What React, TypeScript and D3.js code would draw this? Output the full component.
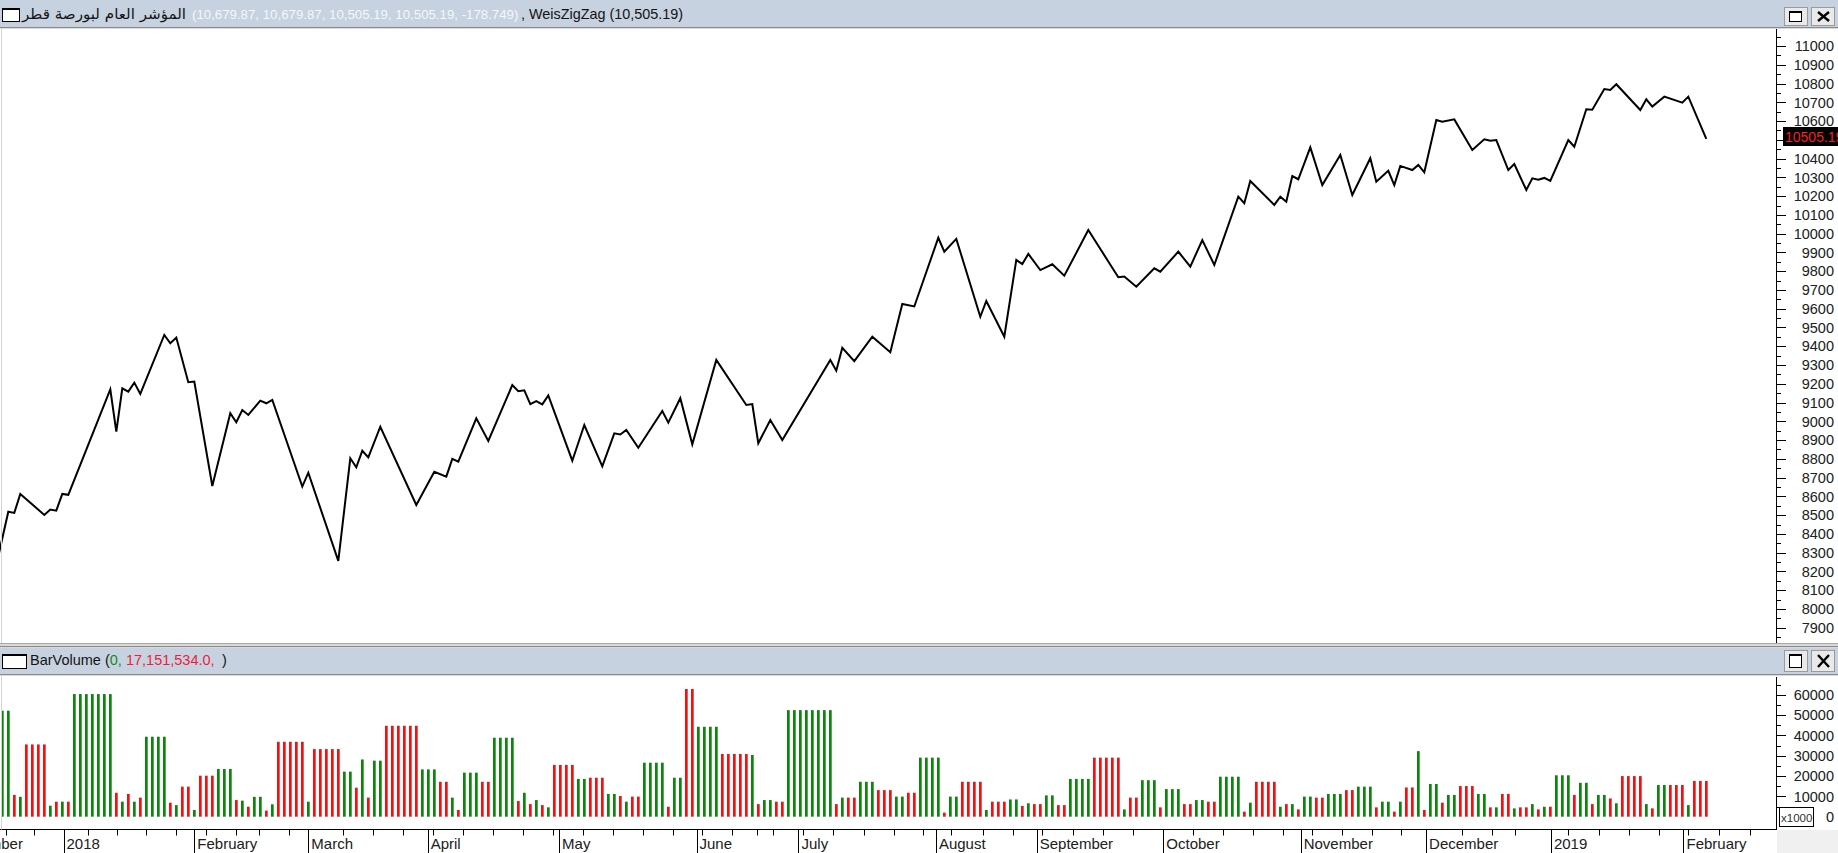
import React from "react";
import * as d3 from "d3";

const W = 1838;
const H = 853;

// ---------- data ----------
const startClose = 8234; // close of the bar just before the first visible bar
// each wave: number of bars, close at end of wave, wave volume shown on each bar
const waveBars = [
  2, 1, 1, 4, 1, 1, 1, 1, 7, 1, 1, 1, 1, 1, 4, 1, 1, 2, 1, 3,
  3, 1, 1, 1, 2, 1, 1, 5, 1, 5, 2, 1, 1, 1, 2, 6, 3, 2, 1, 1,
  3, 2, 4, 1, 1, 1, 1, 1, 1, 4, 2, 3, 2, 1, 1, 2, 4, 1, 2, 2,
  4, 5, 1, 1, 2, 2, 8, 1, 1, 2, 3, 3, 2, 2, 4, 1, 2, 4, 1, 3,
  2, 1, 1, 2, 2, 2, 4, 5, 1, 2, 3, 1, 3, 2, 2, 2, 4, 1, 1, 4,
  1, 1, 1, 1, 2, 2, 3, 2, 3, 1, 2, 1, 1, 2, 1, 1, 2, 1, 2, 3,
  2, 1, 1, 2, 1, 2, 1, 1, 1, 1, 3, 1, 2, 1, 2, 1, 1, 4, 1, 1,
  2, 3, 1, 3,
];
const waveClose = [
  8518, 8512, 8613, 8501, 8530, 8524, 8613, 8608, 9170, 8945,
  9176, 9158, 9206, 9146, 9460, 9416, 9446, 9208, 9212, 8655,
  9043, 8995, 9060, 9034, 9110, 9096, 9114, 8652, 8726, 8256,
  8803, 8755, 8843, 8808, 8971, 8554, 8731, 8705, 8800, 8785,
  9016, 8895, 9193, 9160, 9165, 9092, 9108, 9090, 9138, 8790,
  8980, 8760, 8936, 8930, 8954, 8859, 9055, 8993, 9123, 8877,
  9327, 9087, 9092, 8883, 9007, 8900, 9327, 9270, 9392, 9321,
  9451, 9368, 9625, 9612, 9978, 9904, 9972, 9557, 9641, 9451,
  9860, 9838, 9892, 9806, 9837, 9776, 10019, 9768, 9772, 9717,
  9815, 9797, 9904, 9824, 9966, 9833, 10197, 10162, 10281, 10153,
  10197, 10170, 10307, 10290, 10460, 10259, 10419, 10206, 10402, 10277,
  10335, 10259, 10361, 10339, 10366, 10327, 10606, 10597, 10609, 10446,
  10503, 10495, 10499, 10339, 10371, 10233, 10295, 10288, 10297, 10281,
  10499, 10463, 10663, 10660, 10771, 10766, 10796, 10659, 10716, 10677,
  10730, 10698, 10730, 10505.19,
];
const waveVolume = [
  52200, 10700, 9800, 35600, 5400, 7400, 7400, 7400, 60400, 11800,
  7400, 11200, 7400, 9400, 39400, 6900, 5700, 14800, 3300, 20200,
  23500, 8200, 7900, 4900, 9800, 3000, 6100, 36900, 7400, 33300,
  22200, 14300, 28200, 9400, 27600, 44800, 23300, 17200, 9400, 3300,
  21700, 17200, 38900, 7700, 11800, 6200, 8200, 5700, 4600, 25500,
  18600, 19200, 11200, 10200, 7400, 9900, 26600, 4900, 19200, 62900,
  44300, 30900, 30400, 6200, 8200, 7400, 52500, 6200, 9400, 9400,
  17200, 13100, 9900, 11800, 29100, 2000, 9900, 17200, 3300, 7400,
  8500, 5300, 6600, 6200, 10500, 5700, 18600, 29100, 3600, 9400,
  18000, 4600, 13600, 6200, 8200, 7400, 19700, 2500, 6900, 17200,
  4900, 6200, 6200, 3600, 9900, 9400, 11200, 13100, 14800, 4600,
  7400, 2500, 7400, 14400, 32300, 3300, 16100, 6900, 10700, 15100,
  11200, 4600, 4600, 11200, 4100, 4600, 6200, 3600, 4900, 4900,
  20400, 10700, 16700, 6200, 10700, 9000, 6600, 20000, 6200, 4100,
  15600, 15600, 5700, 17600,
];

const monthLabels = [
  "December", "2018", "February", "March", "April", "May", "June", "July",
  "August", "September", "October", "November", "December", "2019", "February",
];
const monthTickPos = [-8.6, 10.2, 32, 51, 70.9, 92.8, 115.7, 132.7, 155.6, 172.4, 193.5, 216.4, 237.3, 258.1, 280.2];
const weekTickPos = [
  0.7, 5.2, 14.2, 19.1, 23.9, 28.9, 33.9, 38.9, 42.8, 47.8, 56.8, 61.7, 66.8, 71.7,
  76.7, 81.8, 86.7, 91.8, 96.8, 101.7, 106.7, 111.7, 116.6, 121.6, 125.7, 128.5, 133.5,
  138.5, 143.6, 148.6, 153.4, 158.2, 163.4, 168.5, 173.2, 178.4, 183.5, 188.5, 198.5,
  203.5, 208.5, 213.5, 218.2, 223.2, 228.2, 233.2, 243.2, 248.3, 252.2, 261, 266.1,
  271.1, 276.1, 281, 286.2, 291.2,
];
// 10500 sits under the last-value box, as in the reference
const priceTickLabels = d3.range(7900, 11001, 100).filter((v) => v !== 10500);
const priceTickMarks = d3.range(7900, 11001, 100);
const volumeTickLabels = [10000, 20000, 30000, 40000, 50000, 60000];

const headerTitle = "المؤشر العام لبورصة قطر";
const headerValues = "(10,679.87, 10,679.87, 10,505.19, 10,505.19, -178.749)";
const headerIndicator = ", WeisZigZag (10,505.19)";
const lastValueLabel = "10505.19";

// ---------- layout ----------
const FONT = "'Liberation Sans', Arial, sans-serif";
const AXIS_X = 1776;
const PRICE_TOP = 29;
const PRICE_BOTTOM = 643;
const VOL_TOP = 675;
const VOL_BASE = 816.7;
const DATE_Y = 829.5;
const HEADER_FILL = "#c6d2df";
const GREEN = "#0a860a";
const RED = "#f21010";

type Pt = { i: number; v: number };
type Bar = { i: number; v: number; up: boolean };

function buildSeries() {
  const pivots: Pt[] = [{ i: -1, v: startClose }];
  const bars: Bar[] = [];
  let idx = 0;
  waveBars.forEach((n, k) => {
    const prev = k === 0 ? startClose : waveClose[k - 1];
    const up = waveClose[k] >= prev;
    for (let j = 0; j < n; j++) bars.push({ i: idx + j, v: waveVolume[k], up });
    idx += n;
    pivots.push({ i: idx - 1, v: waveClose[k] });
  });
  return { pivots, bars, n: idx };
}

function WinIcon({ x, y, w, h }: { x: number; y: number; w: number; h: number }) {
  return (
    <g>
      <rect x={x + 0.5} y={y + 0.5} width={w} height={h} fill="#fff" stroke="#000" strokeWidth={1} />
      <rect x={x} y={y} width={w + 1} height={2} fill="#000" />
    </g>
  );
}

function Buttons({ y, h }: { y: number; h: number }) {
  return (
    <g>
      <rect x={1784.5} y={y + 0.5} width={23} height={h} fill="#e9e9e9" stroke="#9a9a9a" />
      <rect x={1789.5} y={y + 4.5} width={12} height={h - 8} fill="#fff" stroke="#000" />
      <rect x={1789} y={y + 4} width={13} height={2} fill="#000" />
      <rect x={1811.5} y={y + 0.5} width={23} height={h} fill="#e9e9e9" stroke="#9a9a9a" />
      <line x1={1818} y1={y + 5} x2={1829} y2={y + h - 4} stroke="#000" strokeWidth={2.4} />
      <line x1={1829} y1={y + 5} x2={1818} y2={y + h - 4} stroke="#000" strokeWidth={2.4} />
    </g>
  );
}

export default function App() {
  const { pivots, bars, n } = buildSeries();
  const x = d3.scaleLinear().domain([0, n - 1]).range([2.3, 2.3 + 6 * (n - 1)]);
  const y = d3.scaleLinear().domain([7818.5, 11090.6]).range([PRICE_BOTTOM, PRICE_TOP]);
  const yv = d3.scaleLinear().domain([0, 69800]).range([VOL_BASE, VOL_TOP]);

  const line = d3
    .line<Pt>()
    .x((d) => x(d.i))
    .y((d) => y(d.v));

  const priceMinor = d3.range(7850, 11100, 50).filter((v) => v % 100 !== 0);
  const volMinor = d3.range(5000, 70000, 10000);

  return (
    <div style={{ position: "fixed", left: 0, top: 0 }}>
      <svg width={W} height={H} style={{ display: "block" }} fontFamily={FONT}>
        <defs>
          <clipPath id="priceClip">
            <rect x={0} y={PRICE_TOP} width={AXIS_X} height={PRICE_BOTTOM - PRICE_TOP} />
          </clipPath>
          <clipPath id="dateClip">
            <rect x={0} y={DATE_Y} width={AXIS_X} height={H - DATE_Y} />
          </clipPath>
        </defs>
        <rect x={0} y={0} width={W} height={H} fill="#fff" />

        {/* ---------- top header ---------- */}
        <rect x={0} y={0} width={W} height={27} fill={HEADER_FILL} />
        <line x1={0} y1={27.5} x2={W} y2={27.5} stroke="#8a8a8a" />
        <line x1={0} y1={28.5} x2={W} y2={28.5} stroke="#dcdcdc" />
        <WinIcon x={2} y={8} w={17} h={13} />
        <text x={22} y={19} fontSize={14.5} fontFamily="'DejaVu Sans', 'Noto Sans', sans-serif" fill="#141414" textLength={164} lengthAdjust="spacingAndGlyphs">
          {headerTitle}
        </text>
        <text x={192} y={19} fontSize={13.25} fill="#f4f7fb">
          {headerValues}
        </text>
        <text x={521} y={19} fontSize={14.4} fill="#141414">
          {headerIndicator}
        </text>
        <Buttons y={7} h={18} />

        {/* ---------- price panel ---------- */}
        <path d={line(pivots) ?? ""} fill="none" stroke="#000" strokeWidth={2} strokeLinejoin="miter" clipPath="url(#priceClip)" />
        <line x1={AXIS_X + 0.5} y1={PRICE_TOP} x2={AXIS_X + 0.5} y2={PRICE_BOTTOM} stroke="#000" />
        {priceTickMarks.map((v) => (
          <line key={"ptm" + v} x1={AXIS_X} x2={AXIS_X + 10} y1={Math.round(y(v)) + 0.5} y2={Math.round(y(v)) + 0.5} stroke="#000" />
        ))}
        {priceTickLabels.map((v) => (
          <text key={"pt" + v} x={1834} y={y(v)} dy="0.36em" fontSize={14.5} textAnchor="end" fill="#202020">
            {v}
          </text>
        ))}
        {priceMinor.map((v) => (
          <line key={"pm" + v} x1={AXIS_X} x2={AXIS_X + 5} y1={Math.round(y(v)) + 0.5} y2={Math.round(y(v)) + 0.5} stroke="#000" />
        ))}
        <rect x={1783} y={127} width={W - 1783} height={19} fill="#000" />
        <text x={1785} y={141.5} fontSize={14} fill="#ff1e1e">
          {lastValueLabel}
        </text>

        {/* ---------- separator ---------- */}
        <rect x={0} y={643} width={W} height={5} fill="#d9d9d9" />
        <line x1={0} y1={643.5} x2={W} y2={643.5} stroke="#a8a8a8" />
        <line x1={0} y1={646.5} x2={W} y2={646.5} stroke="#8a8a8a" />

        {/* ---------- volume header ---------- */}
        <rect x={0} y={648} width={W} height={26} fill={HEADER_FILL} />
        <line x1={0} y1={674.5} x2={W} y2={674.5} stroke="#8a8a8a" />
        <line x1={0} y1={675.5} x2={W} y2={675.5} stroke="#dcdcdc" />
        <WinIcon x={2} y={654} w={24} h={14} />
        <text x={30} y={665} fontSize={14.5} fill="#141414">
          BarVolume (
          <tspan fill="#1a8a1a">0,</tspan>
          <tspan fill="#ef1c3c"> 17,151,534.0,</tspan>
        </text>
        <text x={222} y={665} fontSize={14.5} fill="#141414">
          )
        </text>
        <Buttons y={650} h={21} />

        {/* ---------- volume panel ---------- */}
        {bars.map((b) => (
          <rect
            key={"b" + b.i}
            x={x(b.i) - 1.3}
            y={yv(b.v)}
            width={2.7}
            height={VOL_BASE - yv(b.v)}
            fill={b.up ? GREEN : RED}
          />
        ))}
        <line x1={AXIS_X + 0.5} y1={VOL_TOP + 2} x2={AXIS_X + 0.5} y2={DATE_Y} stroke="#000" />
        {volumeTickLabels.map((v) => (
          <g key={"vt" + v}>
            <line x1={AXIS_X} x2={AXIS_X + 10} y1={Math.round(yv(v)) + 0.5} y2={Math.round(yv(v)) + 0.5} stroke="#000" />
            <text x={1834} y={yv(v)} dy="0.36em" fontSize={14.5} textAnchor="end" fill="#202020">
              {v}
            </text>
          </g>
        ))}
        {volMinor.map((v) => (
          <line key={"vm" + v} x1={AXIS_X} x2={AXIS_X + 5} y1={Math.round(yv(v)) + 0.5} y2={Math.round(yv(v)) + 0.5} stroke="#000" />
        ))}
        <rect x={1779.5} y={807.5} width={34} height={19} fill="#fff" stroke="#000" />
        <text x={1781} y={822} fontSize={11.5} fill="#303030">
          x1000
        </text>
        <text x={1834} y={yv(0)} dy="0.36em" fontSize={14.5} textAnchor="end" fill="#202020">
          0
        </text>

        {/* ---------- date axis ---------- */}
        <rect x={AXIS_X + 1} y={DATE_Y + 0.5} width={W - AXIS_X} height={H - DATE_Y} fill="#f0f0f0" />
        <line x1={0} y1={DATE_Y} x2={AXIS_X + 1} y2={DATE_Y} stroke="#000" />
        <g clipPath="url(#dateClip)">
          {weekTickPos.map((p, k) => (
            <line key={"wk" + k} x1={Math.round(x(p)) + 0.5} x2={Math.round(x(p)) + 0.5} y1={DATE_Y} y2={DATE_Y + 6} stroke="#000" />
          ))}
          {monthTickPos.map((p, k) => (
            <g key={"mt" + k}>
              <line x1={Math.round(x(p)) + 0.5} x2={Math.round(x(p)) + 0.5} y1={DATE_Y} y2={H} stroke="#000" />
              <text x={x(p) + 3} y={849} fontSize={15} fill="#202020">
                {monthLabels[k]}
              </text>
            </g>
          ))}
        </g>

        {/* left window border */}
        <line x1={1.5} y1={PRICE_TOP} x2={1.5} y2={643} stroke="#d4d4d4" />
        <line x1={1.5} y1={676} x2={1.5} y2={DATE_Y} stroke="#d4d4d4" />
      </svg>
    </div>
  );
}
